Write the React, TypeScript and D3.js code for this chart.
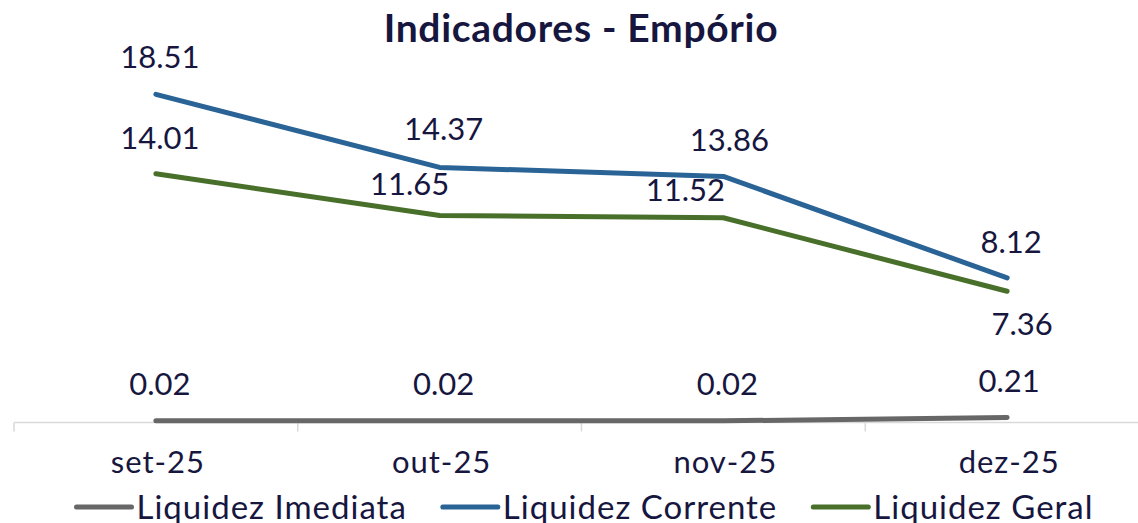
import React, { useEffect, useRef } from "react";
import * as d3 from "d3";

const title = "Indicadores - Empório";
const categories = ["set-25", "out-25", "nov-25", "dez-25"];
const seriesNames = ["Liquidez Imediata", "Liquidez Corrente", "Liquidez Geral"];
const liquidezImediata = [0.02, 0.02, 0.02, 0.21];
const liquidezCorrente = [18.51, 14.37, 13.86, 8.12];
const liquidezGeral = [14.01, 11.65, 11.52, 7.36];
const seriesColors = ["#676767", "#2a6395", "#48702a"];

// label nudges (dx, dy from point) per series, per category
const labelNudges = [
  [[4, -26], [4, -26], [4, -26], [2, -25]],
  [[4, -26], [4, -27], [6, -25], [4, -25]],
  [[4, -25], [-30, -20], [-38, -17], [15, 44]],
];

const FONT = "'Century Gothic', Lato, 'DejaVu Sans', sans-serif";
const TEXT = "#16163f";
const FS = 31;

export default function App() {
  const ref = useRef<SVGSVGElement | null>(null);
  useEffect(() => {
    const svg = d3.select(ref.current);
    svg.selectAll("*").remove();
    const W = 1138, H = 523;
    const x = d3.scaleBand<string>().domain(categories).range([14, 1149]).padding(0);
    const y = d3.scaleLinear().domain([0, 20]).range([421.2, 68]);
    const cx = (c: string) => (x(c) as number) + x.bandwidth() / 2;

    svg.append("rect").attr("width", W).attr("height", H).attr("fill", "#fff");

    svg.append("text").text(title).attr("x", 581).attr("y", 42)
      .attr("text-anchor", "middle").attr("font-family", FONT)
      .attr("font-weight", "bold").attr("font-size", 39)
      .attr("letter-spacing", 0.7).attr("fill", TEXT);

    // axis
    const axisY = 422.5;
    svg.append("line").attr("x1", 14).attr("x2", W + 20).attr("y1", axisY).attr("y2", axisY)
      .attr("stroke", "#d9d9d9").attr("stroke-width", 1.5);
    const bounds = [...categories.map((c) => x(c) as number), 1149];
    svg.selectAll(".tick").data(bounds).enter().append("line")
      .attr("x1", (d) => d).attr("x2", (d) => d).attr("y1", axisY).attr("y2", axisY + 9)
      .attr("stroke", "#d9d9d9").attr("stroke-width", 1.5);
    svg.selectAll(".xl").data(categories).enter().append("text")
      .text((d) => d).attr("x", (d) => cx(d) + 2).attr("y", 473)
      .attr("text-anchor", "middle").attr("font-family", FONT)
      .attr("font-size", FS).attr("letter-spacing", 1).attr("fill", TEXT);

    const all = [liquidezImediata, liquidezCorrente, liquidezGeral];
    const line = d3.line<number>().x((_, i) => cx(categories[i])).y((d) => y(d));
    all.forEach((vals, si) => {
      svg.append("path").attr("d", line(vals) as string).attr("fill", "none")
        .attr("stroke", seriesColors[si]).attr("stroke-width", 5)
        .attr("stroke-linecap", "round").attr("stroke-linejoin", "round");
    });
    all.forEach((vals, si) => {
      vals.forEach((v, i) => {
        const [dx, dy] = labelNudges[si][i];
        svg.append("text").text(v.toFixed(2))
          .attr("x", cx(categories[i]) + dx).attr("y", y(v) + dy)
          .attr("text-anchor", "middle").attr("font-family", FONT)
          .attr("font-size", FS).attr("fill", TEXT);
      });
    });

    // legend
    const lg = svg.append("g");
    const items = seriesNames.map((n, i) => {
      const t = lg.append("text").text(n).attr("font-family", FONT)
        .attr("font-size", 33).attr("letter-spacing", 1).attr("fill", TEXT).attr("y", 519);
      const w = (t.node() as SVGTextElement).getComputedTextLength();
      return { t, w, i };
    });
    const lineW = 55, gap1 = 5, gap2 = 36;
    const total = items.reduce((s, it) => s + lineW + gap1 + it.w, 0) + gap2 * (items.length - 1);
    let cur = 585 - total / 2;
    items.forEach((it) => {
      lg.append("line").attr("x1", cur).attr("x2", cur + lineW).attr("y1", 507).attr("y2", 507)
        .attr("stroke", seriesColors[it.i]).attr("stroke-width", 5).attr("stroke-linecap", "round");
      it.t.attr("x", cur + lineW + gap1);
      cur += lineW + gap1 + it.w + gap2;
    });
  }, []);
  return (
    <svg ref={ref} width={1138} height={523}
      style={{ position: "absolute", left: 0, top: 0, display: "block" }} />
  );
}
